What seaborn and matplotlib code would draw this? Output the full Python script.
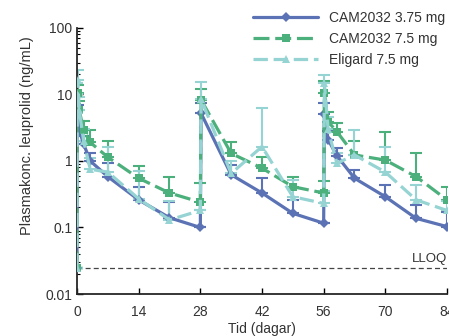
import pandas as pd
import numpy as np
import matplotlib
matplotlib.use('Agg')
import matplotlib.pyplot as plt
import seaborn as sns

# sampling days (three 28-day dosing cycles)
days = [0, 0.04, 0.17, 0.5, 1.5, 3, 7, 14, 21, 28,
        28.17, 35, 42, 49, 56,
        56.17, 57, 59, 63, 70, 77, 84]

cam375 = [0.025, 2.5, 4.0, 2.9, 1.8, 1.0, 0.58, 0.26, 0.14, 0.10,
          5.2, 0.62, 0.33, 0.163, 0.116,
          5.0, 2.1, 1.2, 0.55, 0.29, 0.137, 0.103]
cam375_hi = [0.025, 4.0, 7.0, 4.0, 2.4, 1.3, 0.93, 0.41, 0.245, 0.10,
             7.5, 0.87, 0.55, 0.26, 0.116,
             7.5, 2.8, 1.55, 0.73, 0.44, 0.22, 0.17]

cam75 = [0.025, 6.5, 10.4, 5.8, 2.9, 1.9, 1.14, 0.55, 0.33, 0.24,
         8.3, 1.3, 0.78, 0.41, 0.33,
         10.5, 3.9, 2.76, 1.23, 1.03, 0.58, 0.26]
cam75_hi = [0.025, 9.0, 14.0, 8.0, 4.0, 2.9, 2.0, 0.84, 0.57, 0.47,
            12.0, 1.9, 1.14, 0.58, 0.5,
            16.0, 5.5, 3.7, 2.0, 2.76, 1.3, 0.41]

eligard = [0.025, 10.0, 16.5, 5.8, 2.0, 0.75, 0.68, 0.27, 0.13, 0.18,
           8.5, 0.65, 1.64, 0.29, 0.23,
           14.7, 3.0, 0.92, 1.23, 0.68, 0.26, 0.18]
eligard_hi = [0.025, 15.0, 23.0, 9.0, 3.0, 1.1, 1.64, 0.7, 0.25, 0.18,
              15.6, 1.0, 6.3, 0.52, 0.35,
              19.6, 4.5, 1.3, 2.9, 1.64, 0.44, 0.25]

labels = ["CAM2032 3.75 mg", "CAM2032 7.5 mg", "Eligard 7.5 mg"]
colors = ["#5b72b4", "#4cb07c", "#95d4d3"]
lloq = 0.025

rows = []
for lab, vals in zip(labels, [cam375, cam75, eligard]):
    for d, v in zip(days, vals):
        rows.append({"Tid": d, "Konc": v, "Grupp": lab})
df = pd.DataFrame(rows)

sns.set_style("ticks")
plt.rcParams['font.family'] = ['Liberation Sans', 'DejaVu Sans']

fig = plt.figure(figsize=(4.49, 3.36), dpi=100)
ax = fig.add_axes([0.1715, 0.125, 0.824, 0.792])

ax.axhline(lloq, color="#444444", lw=0.9, ls=(0, (4, 2.5)), zorder=1)
ax.text(84, lloq * 1.1, "LLOQ", ha="right", va="bottom", fontsize=9.5, color="#333333")

for lab, vals, hi, c in zip(labels, [cam375, cam75, eligard],
                            [cam375_hi, cam75_hi, eligard_hi], colors):
    v = np.array(vals)
    up = np.array(hi) - v
    ax.errorbar(days, v, yerr=[np.zeros_like(v), up], fmt="none", ecolor=c,
                elinewidth=1.5, capsize=4, capthick=1.5, zorder=2)

sns.lineplot(data=df, x="Tid", y="Konc", hue="Grupp", style="Grupp",
             palette=dict(zip(labels, colors)),
             markers={labels[0]: "D", labels[1]: "s", labels[2]: "^"},
             dashes={labels[0]: "", labels[1]: (5, 1.8), labels[2]: (4.5, 1.8)},
             estimator=None, sort=False, lw=2.3, markersize=5.5,
             markeredgewidth=0, ax=ax, legend=True, zorder=3)

ax.set_yscale("log")
ax.set_ylim(0.01, 100)
ax.set_xlim(0, 84)
ax.set_xticks([0, 14, 28, 42, 56, 70, 84])
ax.set_yticks([0.01, 0.1, 1, 10, 100])
ax.set_yticklabels(["0.01", "0.1", "1", "10", "100"])
ax.tick_params(axis="both", which="both", direction="in", colors="black",
               labelcolor="#333333", labelsize=10)
ax.tick_params(axis="both", which="major", length=4, width=1)
ax.tick_params(axis="x", which="major", pad=8)
ax.tick_params(axis="y", which="minor", length=2.5, width=0.8)
for s in ["left", "bottom"]:
    ax.spines[s].set_linewidth(1.3)
sns.despine(ax=ax)

ax.set_xlabel("Tid (dagar)", fontsize=10, color="#333333", labelpad=2)
ax.set_ylabel("Plasmakonc. leuprolid (ng/mL)", fontsize=10.5, color="#333333")
ax.yaxis.set_label_coords(-0.115, 0.596)

handles, labs = ax.get_legend_handles_labels()
ax.legend_.remove()
fig.legend(handles, labs, loc="upper right", bbox_to_anchor=(1.02, 1.005),
           frameon=False, fontsize=10, handlelength=4.7, handletextpad=0.8,
           labelspacing=0.5, labelcolor="#333333")

fig.savefig("out.png", dpi=100)
